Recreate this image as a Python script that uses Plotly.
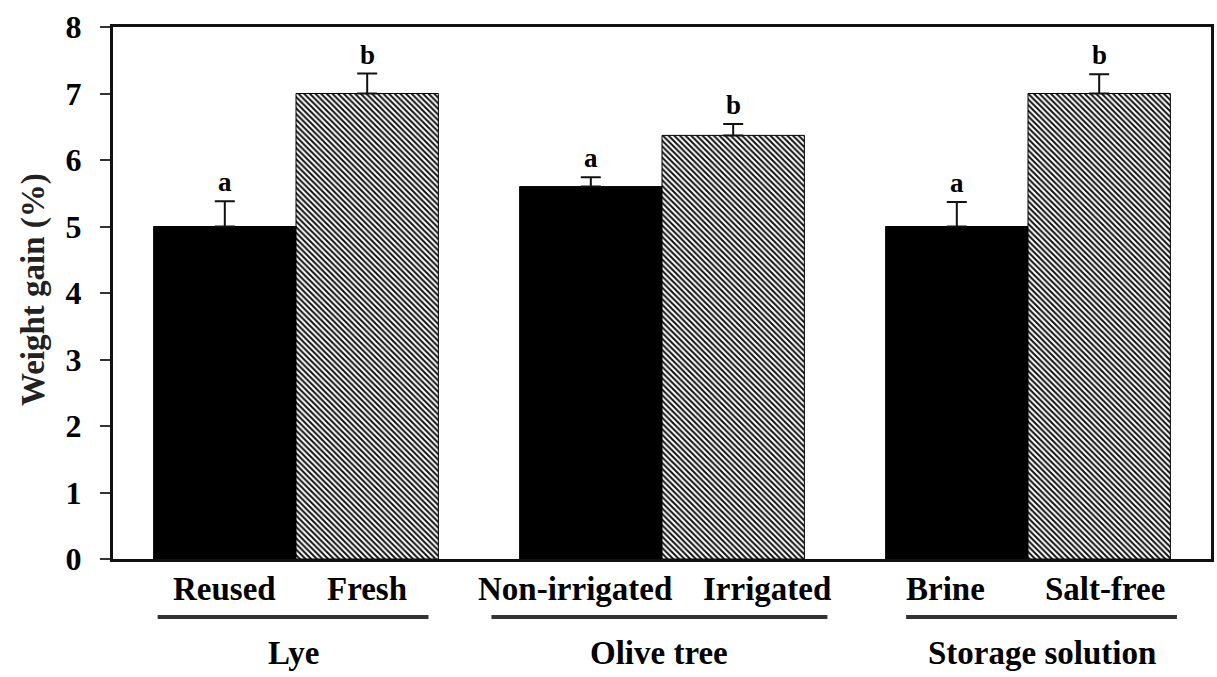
import plotly.graph_objects as go

# ---- data ----
groups = ["Lye", "Olive tree", "Storage solution"]
first_labels = ["Reused", "Non-irrigated", "Brine"]
second_labels = ["Fresh", "Irrigated", "Salt-free"]
first_values = [5.0, 5.6, 5.0]
first_errors = [0.38, 0.14, 0.37]
second_values = [7.0, 6.37, 7.0]
second_errors = [0.30, 0.17, 0.29]
first_letters = ["a", "a", "a"]
second_letters = ["b", "b", "b"]
y_ticks = [0, 1, 2, 3, 4, 5, 6, 7, 8]

# ---- style ----
FONT = "Liberation Serif"
BARGAP = 0.222
HALF = (1 - BARGAP) / 4  # centre offset of each bar in a group
first_shift = [0, -16, -11]
second_shift = [0, 34, 6]
bracket_extent = [(-0.378, 0.362), (-0.466, 0.452), (-0.333, 0.407)]

fig = go.Figure()
fig.add_trace(go.Bar(
    x=groups, y=first_values, name="first",
    marker=dict(color="black", line=dict(color="black", width=1)),
    error_y=dict(type="data", array=first_errors, symmetric=False,
                 arrayminus=[0] * 3, color="#111", thickness=2, width=10),
))
fig.add_trace(go.Bar(
    x=groups, y=second_values, name="second",
    marker=dict(color="white", line=dict(color="black", width=1),
                pattern=dict(shape="\\", size=4, solidity=0.5,
                             fgcolor="#111", bgcolor="white", fillmode="replace")),
    error_y=dict(type="data", array=second_errors, symmetric=False,
                 arrayminus=[0] * 3, color="#111", thickness=2, width=10),
))

ann = []
shapes = []
for i, g in enumerate(groups):
    for off, lab, val, err, let, sh in (
        (-HALF, first_labels[i], first_values[i], first_errors[i], first_letters[i], first_shift[i]),
        (HALF, second_labels[i], second_values[i], second_errors[i], second_letters[i], second_shift[i]),
    ):
        ann.append(dict(x=i + off, y=val + err, xref="x", yref="y", text=f"<b>{let}</b>",
                        showarrow=False, yanchor="bottom", yshift=2,
                        font=dict(family=FONT, size=27, color="black")))
        ann.append(dict(x=i + off, y=0, xref="x", yref="y", text=f"<b>{lab}</b>",
                        showarrow=False, yanchor="middle", yshift=-30, xshift=sh,
                        font=dict(family=FONT, size=33, color="black")))
    ann.append(dict(x=i + sum(bracket_extent[i]) / 2, y=0, xref="x", yref="y",
                    text=f"<b>{g}</b>", showarrow=False, yanchor="middle", yshift=-94,
                    font=dict(family=FONT, size=33, color="black")))
    x0, x1 = bracket_extent[i]
    shapes.append(dict(type="line", xref="x", yref="paper", x0=i + x0, x1=i + x1,
                       y0=-0.109, y1=-0.109, line=dict(color="#333", width=4)))

ann.append(dict(x=0, y=0.5, xref="paper", yref="paper", text="<b>Weight gain (%)</b>",
                textangle=-90, showarrow=False, xanchor="center", yanchor="middle",
                xshift=-80, yshift=3, font=dict(family=FONT, size=33, color="#222")))

fig.update_layout(
    width=1217, height=677,
    margin=dict(l=113, r=3, t=27, b=118),
    paper_bgcolor="white", plot_bgcolor="white",
    barmode="group", bargap=BARGAP, bargroupgap=0,
    showlegend=False,
    annotations=ann, shapes=shapes,
    xaxis=dict(type="category", range=[-0.5, 2.5], showticklabels=False, ticks="",
               showline=True, linecolor="#111", linewidth=3, mirror=True,
               showgrid=False, zeroline=False),
    yaxis=dict(range=[0, 8], tickvals=y_ticks, ticks="outside", ticklen=10,
               tickwidth=2, tickcolor="#333", showline=True, linecolor="#111",
               linewidth=3, mirror=True, showgrid=False, zeroline=False,
               ticklabelstandoff=12,
               tickfont=dict(family=FONT, size=32, color="black", weight="bold")),
)

fig.write_html("out.html")
